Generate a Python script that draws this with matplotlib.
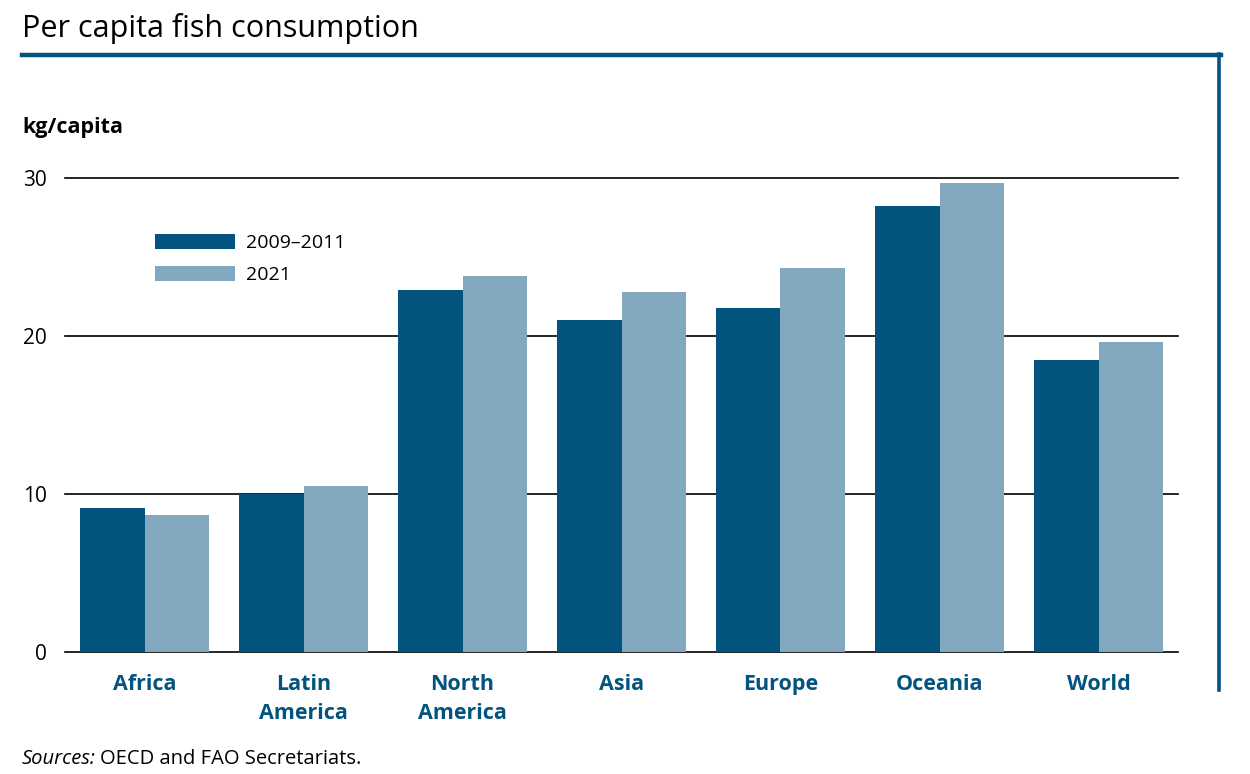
import matplotlib
matplotlib.use("Agg")
import matplotlib.pyplot as plt
from matplotlib.lines import Line2D
import numpy as np

plt.rcParams['font.family'] = ['Open Sans', 'DejaVu Sans']

# data
regions = ["Africa", "Latin\nAmerica", "North\nAmerica", "Asia", "Europe", "Oceania", "World"]
base_2009_2011 = [9.1, 10.0, 22.9, 21.0, 21.8, 28.2, 18.5]
year_2021 = [8.7, 10.5, 23.8, 22.8, 24.3, 29.7, 19.6]
series_labels = ["2009\u20132011", "2021"]
yticks = [0, 10, 20, 30]

DARK = "#02537e"
LIGHT = "#81a8bf"
W, H = 1250, 774

fig = plt.figure(figsize=(W / 100, H / 100), dpi=100)
ax = fig.add_axes([65 / W, 122 / H, (1178 - 65) / W, (652 - 178) / H])

x = np.arange(len(regions))
bw = 0.405
b1 = ax.bar(x - bw / 2, base_2009_2011, bw, color=DARK, label=series_labels[0], zorder=3)
b2 = ax.bar(x + bw / 2, year_2021, bw, color=LIGHT, label=series_labels[1], zorder=3)

ax.set_xlim(-0.5, len(regions) - 0.5)
ax.set_ylim(0, 30)
ax.set_yticks(yticks)
for t in yticks:
    ax.axhline(t, color="black", lw=1.2, zorder=2, clip_on=False)
for s in ax.spines.values():
    s.set_visible(False)
ax.tick_params(axis="y", length=0, pad=13, labelsize=15)
ax.set_xticks(x)
ax.set_xticklabels(regions, fontsize=15.5, fontweight="bold", color=DARK, linespacing=1.5)
ax.tick_params(axis="x", length=0, pad=16)

ax.legend(handles=[b1, b2], loc="upper left", bbox_to_anchor=(155 / W, 1 - 234 / H),
          bbox_transform=fig.transFigure, frameon=False, fontsize=14,
          handlelength=4.1, handleheight=0.82, handletextpad=0.6,
          labelspacing=0.7, borderpad=0, borderaxespad=0)

# title and frame
fig.text(22 / W, 1 - 29 / H, "Per capita fish consumption", fontsize=22, va="center", ha="left")
fig.add_artist(Line2D([22 / W, 1221 / W], [1 - 55 / H, 1 - 55 / H], color=DARK, lw=3.2))
fig.add_artist(Line2D([1219 / W, 1219 / W], [1 - 54 / H, 1 - 690 / H], color=DARK, lw=2.6))

fig.text(22 / W, 1 - 127 / H, "kg/capita", fontsize=15.5, fontweight="bold", va="center", ha="left")

fig.text(22 / W, 1 - 759 / H, "Sources:", fontsize=14.5, style="italic", va="center", ha="left")
fig.text(100 / W, 1 - 759 / H, "OECD and FAO Secretariats.", fontsize=14.5, va="center", ha="left")

fig.savefig("out.png", dpi=100, facecolor="white")
